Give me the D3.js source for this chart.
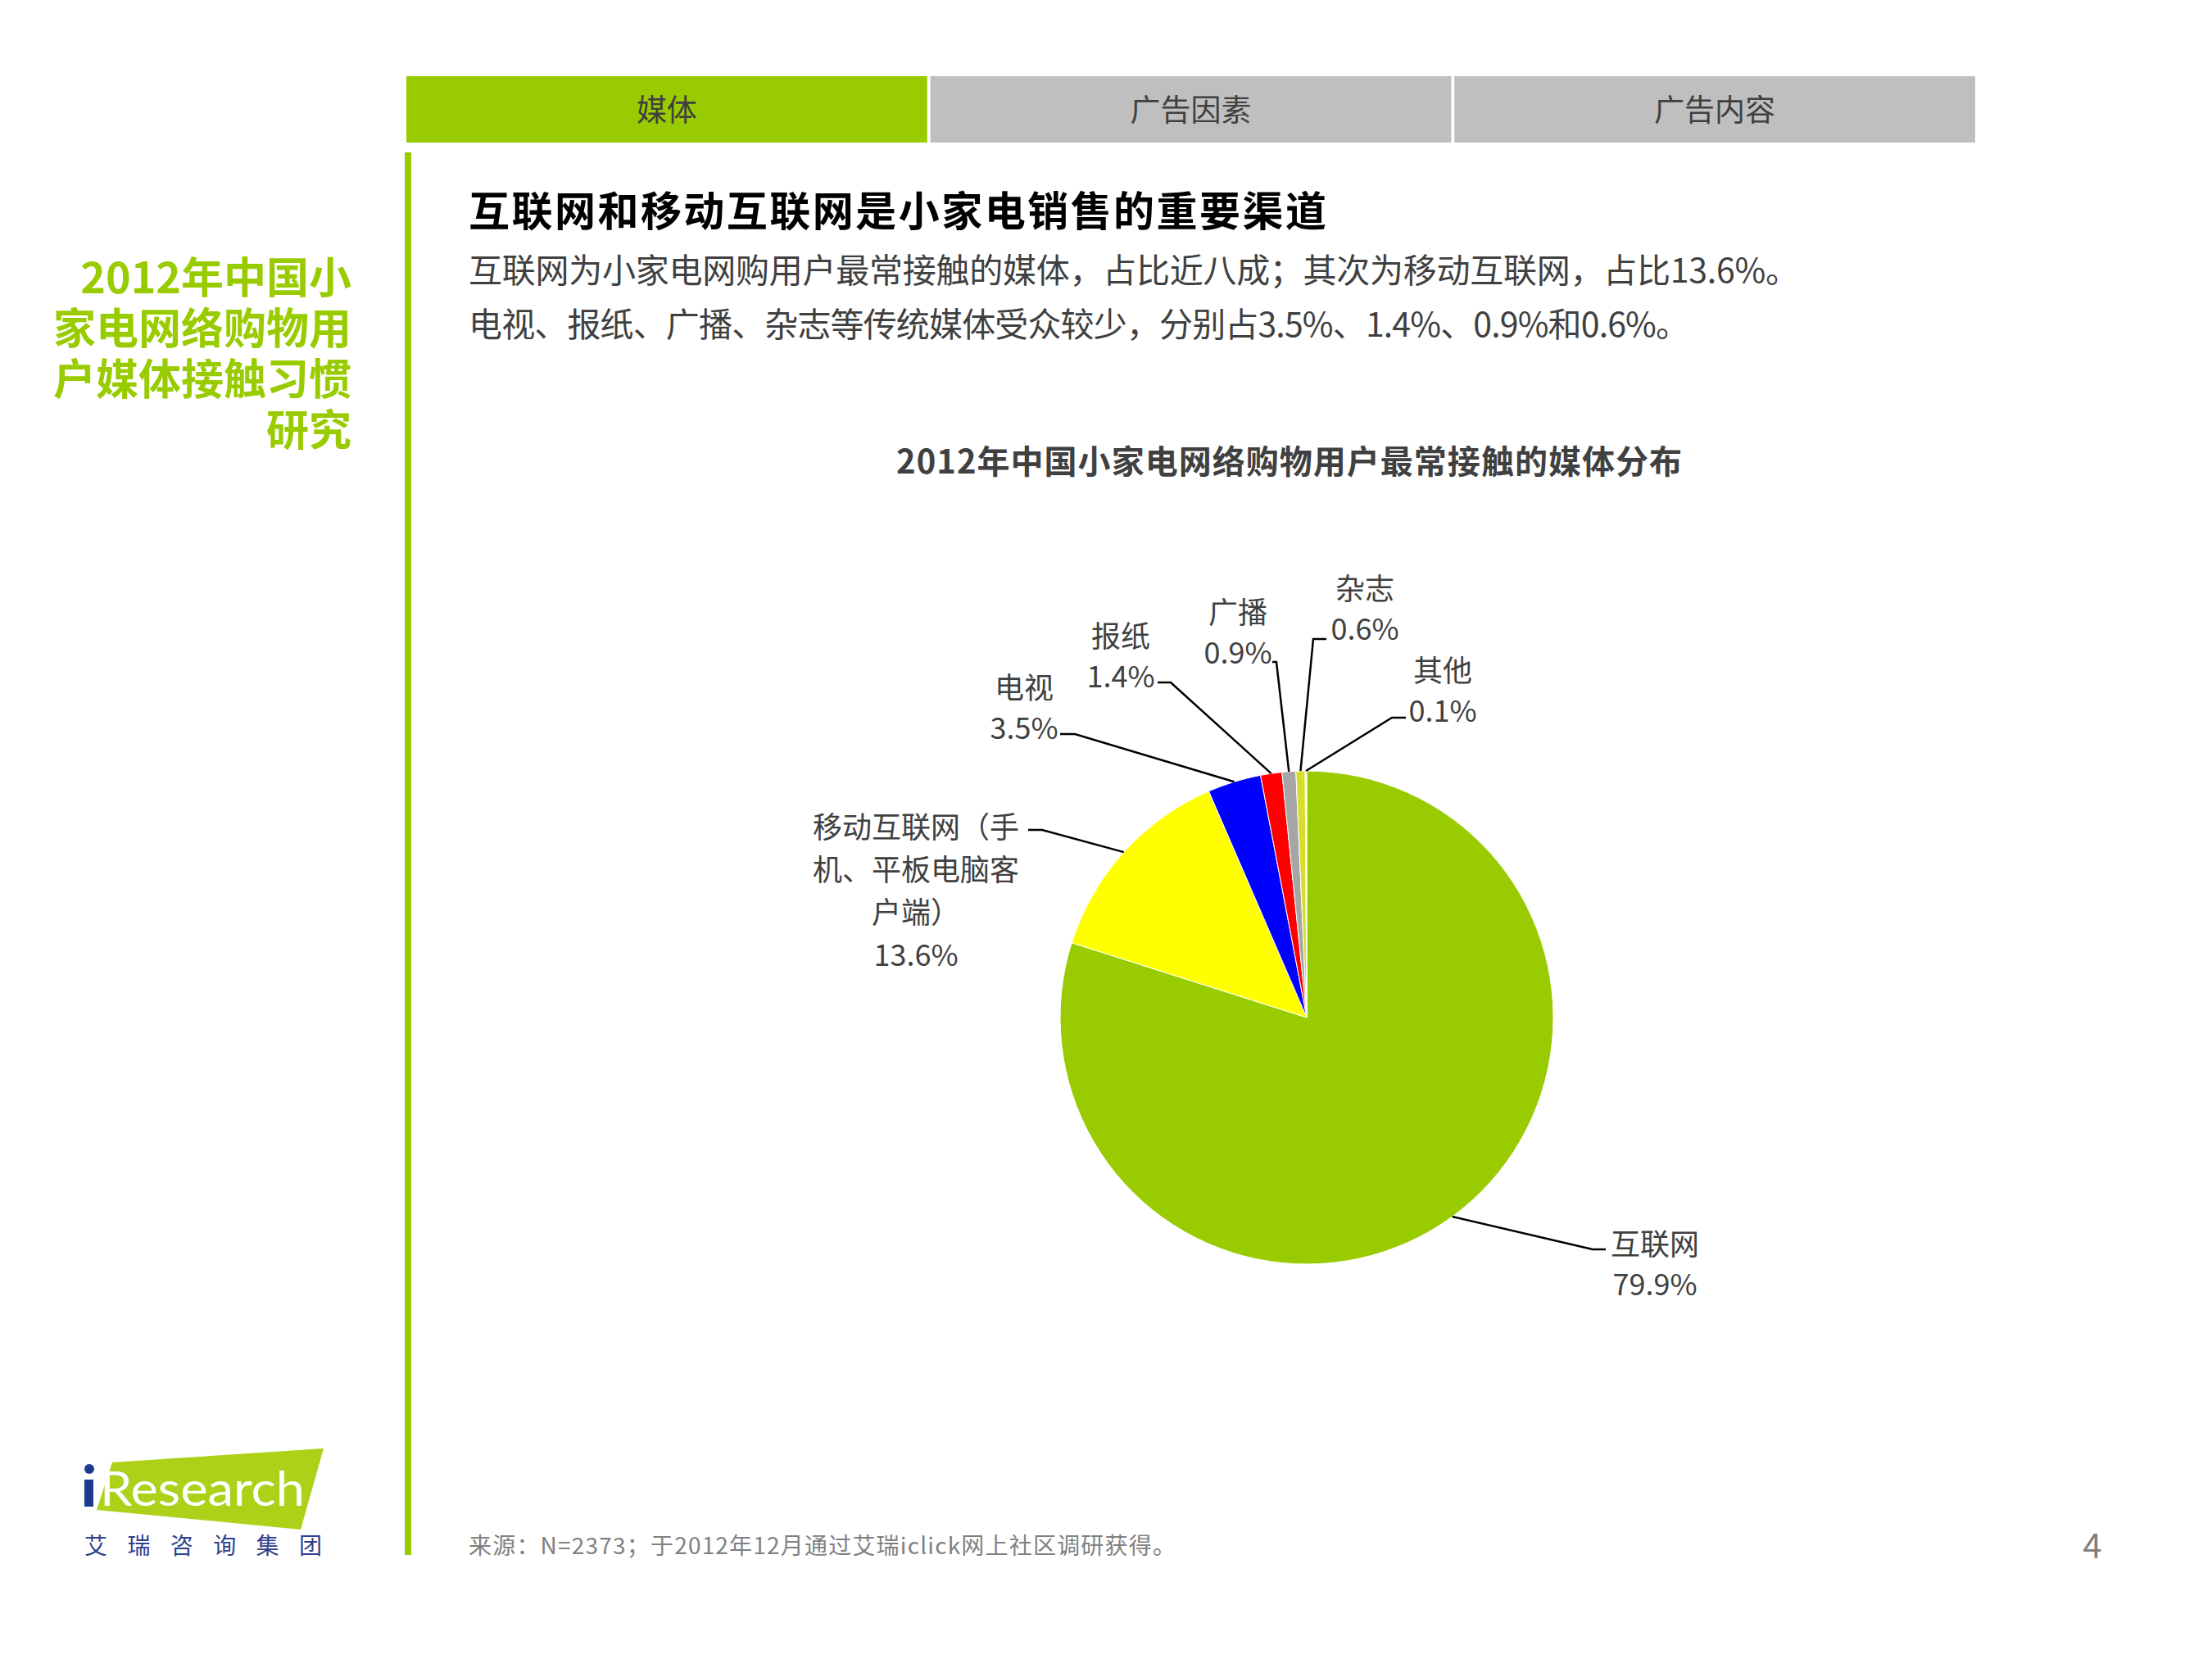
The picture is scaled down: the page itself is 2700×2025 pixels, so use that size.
<!DOCTYPE html>
<html>
  <head>
    <meta charset="utf-8">
    <script src="https://cdnjs.cloudflare.com/ajax/libs/d3/7.8.5/d3.min.js"></script>
    <style type="text/css">
    body {
      margin: 0;
      background: #fff;
    }
    svg text {
      font-family: "Noto Sans CJK SC", "Noto Sans", sans-serif;
    }
    .tab text {
      fill: #404040;
      font-size: 37px;
    }
    .side-title {
      fill: #99cc00;
      font-size: 52px;
      font-weight: bold;
    }
    .headline {
      fill: #000;
      font-size: 50px;
      font-weight: bold;
    }
    .lead {
      fill: #404040;
      font-size: 41px;
    }
    .chart-title {
      fill: #404040;
      font-size: 40px;
      font-weight: bold;
    }
    .label text {
      fill: #404040;
      font-size: 36px;
    }
    .leader {
      fill: none;
      stroke: #000;
      stroke-width: 2.5;
    }
    .source, .page-no {
      fill: #808080;
    }
    </style>
  </head>
  <body>
    <script type="text/javascript">
      // chart data
      var categories = ["互联网", "移动互联网（手机、平板电脑客户端）", "电视", "报纸", "广播", "杂志", "其他"];
      var shares = [79.9, 13.6, 3.5, 1.4, 0.9, 0.6, 0.1];
      var sliceColors = ["#99cc00", "#ffff00", "#0000ff", "#ff0000", "#a6a6a6", "#d6dd2c", "#ffff99"];
      var tabs = ["媒体", "广告因素", "广告内容"];

      // page text
      var sideTitle = ["2012年中国小", "家电网络购物用", "户媒体接触习惯", "研究"];
      var headline = "互联网和移动互联网是小家电销售的重要渠道";
      var leadLines = ["互联网为小家电网购用户最常接触的媒体，占比近八成；其次为移动互联网，占比13.6%。",
                       "电视、报纸、广播、杂志等传统媒体受众较少，分别占3.5%、1.4%、0.9%和0.6%。"];
      var chartTitle = "2012年中国小家电网络购物用户最常接触的媒体分布";
      var source = "来源：N=2373；于2012年12月通过艾瑞iclick网上社区调研获得。";

      // where each label sits (text centre, leader elbow, leader end)
      var labelLayout = [
        {x: 2020, y: 1516, elbow: [1944, 1525], end: [1960, 1525]},
        {x: 1118, y: 1007, elbow: [1272, 1013], end: [1255, 1013]},
        {x: 1250, y: 837,  elbow: [1312, 896],  end: [1294, 896]},
        {x: 1368, y: 774,  elbow: [1429, 833],  end: [1413, 833]},
        {x: 1511, y: 745,  elbow: [1558, 808],  end: [1553, 808]},
        {x: 1666, y: 716,  elbow: [1603, 780],  end: [1619, 780]},
        {x: 1761, y: 816,  elbow: [1699, 876],  end: [1716, 876]}
      ];

      var w = 2700;
      var h = 2025;

      var svg = d3.select("body")
                  .append("svg")
                  .attr("width", w)
                  .attr("height", h);

      // tab strip on top
      var tabScale = d3.scaleBand()
                       .domain(tabs)
                       .range([496, 2411])
                       .paddingInner(0.006);

      var tab = svg.selectAll(".tab")
                   .data(tabs)
                   .enter()
                   .append("g")
                   .attr("class", "tab");
      tab.append("rect")
         .attr("x", function(d) { return tabScale(d); })
         .attr("y", 93)
         .attr("width", tabScale.bandwidth())
         .attr("height", 81)
         .attr("fill", function(d, i) { return i === 0 ? "#99cc00" : "#bfbfbf"; });
      tab.append("text")
         .attr("x", function(d) { return tabScale(d) + tabScale.bandwidth() / 2; })
         .attr("y", 132)
         .attr("text-anchor", "middle")
         .attr("dominant-baseline", "central")
         .text(function(d) { return d; });

      // green divider
      svg.append("rect")
         .attr("x", 494)
         .attr("y", 186)
         .attr("width", 8)
         .attr("height", 1712)
         .attr("fill", "#99cc00");

      // side title, one text block with a line per tspan
      svg.append("text")
         .attr("class", "side-title")
         .attr("text-anchor", "end")
         .selectAll("tspan")
         .data(sideTitle)
         .enter()
         .append("tspan")
           .attr("x", 429)
           .attr("y", function(d, i) { return 358 + i * 62; })
           .text(function(d) { return d; });

      // headline and lead text
      svg.append("text")
         .attr("class", "headline")
         .attr("x", 572)
         .attr("y", 276)
         .attr("textLength", 1047)
         .attr("lengthAdjust", "spacing")
         .text(headline);

      svg.selectAll(".lead")
         .data(leadLines)
         .enter()
         .append("text")
           .attr("class", "lead")
           .attr("x", 572)
           .attr("y", function(d, i) { return 345 + i * 66; })
           .attr("textLength", function(d, i) { return i === 0 ? 1624 : 1490; })
           .attr("lengthAdjust", "spacing")
           .text(function(d) { return d; });

      svg.append("text")
         .attr("class", "chart-title")
         .attr("x", 1094)
         .attr("y", 578)
         .attr("textLength", 959)
         .attr("lengthAdjust", "spacing")
         .text(chartTitle);

      // pie
      var cx = 1595, cy = 1242, r = 301;
      var pieData = d3.pie()
                      .sort(null)
                      .value(function(d) { return d.value; })(
                        categories.map(function(c, i) { return {name: c, value: shares[i], color: sliceColors[i]}; }));

      var arc = d3.arc().innerRadius(0).outerRadius(r);
      var edge = d3.arc().innerRadius(r).outerRadius(r);

      var pieG = svg.append("g")
                    .attr("transform", "translate(" + cx + "," + cy + ")");
      pieG.selectAll("path")
          .data(pieData)
          .enter()
          .append("path")
            .attr("d", arc)
            .attr("fill", function(d) { return d.data.color; })
            .attr("stroke", "#fff")
            .attr("stroke-width", 1);

      // leaders
      svg.selectAll(".leader")
         .data(pieData)
         .enter()
         .append("polyline")
           .attr("class", "leader")
           .attr("points", function(d, i) {
             var c = edge.centroid(d);
             var L = labelLayout[i];
             return [[cx + c[0], cy + c[1]], L.elbow, L.end].map(function(p) { return p.join(","); }).join(" ");
           });

      // labels, wrapped at 7 characters
      function wrap(name) {
        var out = [];
        for (var k = 0; k < name.length; k += 7) out.push(name.slice(k, k + 7));
        return out;
      }

      var label = svg.selectAll(".label")
                     .data(pieData)
                     .enter()
                     .append("g")
                     .attr("class", "label");
      label.append("text")
           .attr("text-anchor", "middle")
           .attr("dominant-baseline", "central")
           .each(function(d, i) {
             var L = labelLayout[i];
             var lines = wrap(d.data.name).concat([d.data.value.toFixed(1) + "%"]);
             var step = lines.length > 2 ? 52 : 49;
             d3.select(this).selectAll("tspan")
               .data(lines)
               .enter()
               .append("tspan")
                 .attr("x", L.x)
                 .attr("y", function(t, j) { return L.y + j * step; })
                 .text(function(t) { return t; });
           });

      // footer
      svg.append("text")
         .attr("class", "source")
         .attr("x", 572)
         .attr("y", 1897)
         .attr("font-size", 28)
         .attr("textLength", 863)
         .attr("lengthAdjust", "spacing")
         .text(source);

      svg.append("text")
         .attr("class", "page-no")
         .attr("x", 2554)
         .attr("y", 1902)
         .attr("font-size", 42)
         .attr("text-anchor", "middle")
         .text("4");

      // logo
      var logo = svg.append("g");
      logo.append("polygon")
          .attr("points", "137,1785 395,1768 367,1867 118,1843")
          .attr("fill", "#acd118");
      logo.append("circle")
          .attr("cx", 109)
          .attr("cy", 1793)
          .attr("r", 6)
          .attr("fill", "#1f3b8f");
      logo.append("rect")
          .attr("x", 103)
          .attr("y", 1806)
          .attr("width", 11)
          .attr("height", 33)
          .attr("fill", "#1f3b8f");
      logo.append("text")
          .attr("x", 122)
          .attr("y", 1838)
          .attr("font-size", 58)
          .attr("fill", "#fff")
          .attr("textLength", 250)
          .attr("lengthAdjust", "spacingAndGlyphs")
          .style("font-family", "Lato, 'Noto Sans', sans-serif")
          .text("Research");
      logo.append("text")
          .attr("x", 103)
          .attr("y", 1897)
          .attr("font-size", 28)
          .attr("fill", "#2e3e8e")
          .attr("textLength", 290)
          .attr("lengthAdjust", "spacing")
          .text("艾瑞咨询集团");
    </script>
  </body>
</html>
